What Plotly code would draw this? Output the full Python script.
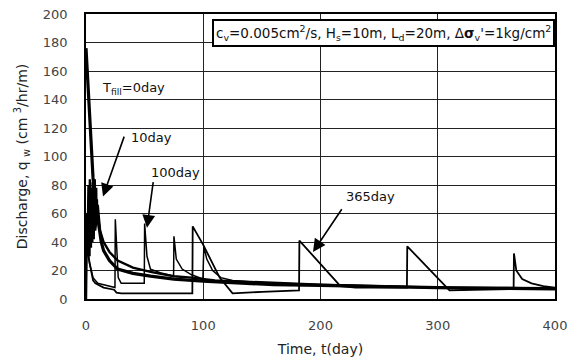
import plotly.graph_objects as go

# ---- data ----
t_0day = [0, 0.5, 1, 2, 3, 4, 6, 8, 10, 11, 13, 15, 20, 27, 40, 55, 75, 100, 130, 160, 200, 250, 300, 350, 400]
q_0day = [176, 168, 158, 140, 124, 110, 85, 68, 57, 50, 40, 34, 27, 21, 18, 16, 14, 12.5, 11, 10, 9.5, 8.5, 8, 7.5, 7]

t_10day = [0, 0.3, 0.6, 0.9, 1.2, 1.5, 1.8, 2.1, 2.4, 2.7, 3.0, 3.3, 3.6, 3.9, 4.2, 4.5, 4.8, 5.1, 5.4,
           5.7, 6.0, 6.3, 6.6, 6.9, 7.2, 7.5, 7.8, 8.1, 8.4, 8.7, 9.0, 9.3, 9.6, 10,
           12, 15, 20, 27, 40, 55, 75, 90, 110, 140, 200, 300, 400]
q_10day = [0, 48, 26, 60, 30, 72, 34, 80, 38, 66, 30, 84, 42, 70, 36, 78, 44, 62, 40, 82, 46,
           74, 42, 68, 50, 84, 48, 72, 52, 78, 55, 70, 58, 66,
           48, 40, 33, 27, 22, 19, 16, 15, 13, 12, 10, 8, 7.5]

t_100day = [0, 0.3, 3, 6, 10, 24.7, 25, 26, 27.5, 30, 49.7, 50, 52, 55, 65, 74.7, 75, 77, 82, 90, 99.7,
            100.5, 103, 108, 115, 125, 150, 200, 250, 300, 400]
q_100day = [0, 45, 25, 15, 11, 8, 56, 35, 15, 11, 11, 53, 30, 21, 18, 16, 44, 28, 21, 17, 14,
            37, 28, 20, 15, 13, 11.5, 10, 9, 8, 7]

t_365day = [0, 0.3, 2, 4, 6, 8, 15, 24, 26, 30, 60, 90.7, 91, 100, 114, 125, 150, 181.7, 182, 217, 230,
            273.7, 274, 310, 330, 364.7, 365, 367, 372, 380, 390, 400]
q_365day = [0, 42, 30, 20, 13, 11, 8, 6.5, 4.5, 4, 4, 4, 51, 38, 15, 4, 5, 6, 41, 9, 8,
            8, 37, 6, 6.5, 7, 32, 20, 14, 11, 9, 8]

x_ticks = [0, 100, 200, 300, 400]
y_ticks = [0, 20, 40, 60, 80, 100, 120, 140, 160, 180, 200]

fig = go.Figure()
fig.add_trace(go.Scatter(x=t_365day, y=q_365day, mode="lines", line=dict(color="black", width=1.8)))
fig.add_trace(go.Scatter(x=t_100day, y=q_100day, mode="lines", line=dict(color="black", width=1.5)))
fig.add_trace(go.Scatter(x=t_10day, y=q_10day, mode="lines", line=dict(color="black", width=2.4)))
fig.add_trace(go.Scatter(x=t_0day, y=q_0day, mode="lines", line=dict(color="black", width=3.2)))

font = "DejaVu Sans"
fig.update_layout(
    width=575, height=362,
    margin=dict(l=86, r=20, t=14, b=63),
    paper_bgcolor="white", plot_bgcolor="white",
    showlegend=False,
    font=dict(family=font, size=13, color="#222"),
)
fig.update_xaxes(
    range=[0, 400], tickvals=x_ticks, ticktext=[str(v) for v in x_ticks],
    showgrid=True, gridcolor="#222", gridwidth=1, zeroline=False,
    showline=True, linecolor="black", linewidth=1.5, mirror=True,
    ticks="outside", ticklen=14, tickcolor="rgba(0,0,0,0)",
    tickfont=dict(size=13, color="#444"), automargin=False,
    title=dict(text="Time, t(day)", font=dict(size=14, color="#222"), standoff=12),
)
fig.update_yaxes(
    range=[0, 200], tickvals=y_ticks, ticktext=[str(v) for v in y_ticks],
    showgrid=True, gridcolor="#222", gridwidth=1, zeroline=False,
    showline=True, linecolor="black", linewidth=1.5, mirror=True,
    ticks="outside", ticklen=14, tickcolor="rgba(0,0,0,0)",
    tickfont=dict(size=13, color="#444"), automargin=False,
    title=dict(text="Discharge, q <sub>w</sub> (cm <sup>3</sup>/hr/m)", font=dict(size=14, color="#222"), standoff=12),
)

fig.add_annotation(
    x=1.0, y=0.935, xref="paper", yref="paper", xanchor="right", yanchor="middle",
    text="c<sub>v</sub>=0.005cm<sup>2</sup>/s, H<sub>s</sub>=10m, L<sub>d</sub>=20m, Δ<b>σ</b><sub>v</sub>'=1kg/cm<sup>2</sup>",
    showarrow=False, bgcolor="white", bordercolor="black", borderwidth=2, borderpad=2,
    font=dict(size=13.5, color="#111"),
)
fig.add_annotation(x=12, y=148, xref="x", yref="y", xanchor="left", text="T<sub>fill</sub>=0day",
                   showarrow=False, font=dict(size=13, color="#111"))
arrows = [
    ("10day", 14.5, 72, 33, 115, 37, 113),
    ("100day", 52, 50, 57.5, 83, 54, 89),
    ("365day", 193.6, 33, 219, 64, 220, 72),
]
for label, tx, ty, axx, ayy, lx, ly in arrows:
    fig.add_annotation(x=tx, y=ty, ax=axx, ay=ayy, xref="x", yref="y", axref="x", ayref="y",
                       showarrow=True, arrowhead=2, arrowsize=1.6, arrowwidth=1.6, arrowcolor="black", text="")
    fig.add_annotation(x=lx, y=ly, xref="x", yref="y", xanchor="left", text=label,
                       showarrow=False, font=dict(size=13, color="#111"))

fig.write_html("out.html")
